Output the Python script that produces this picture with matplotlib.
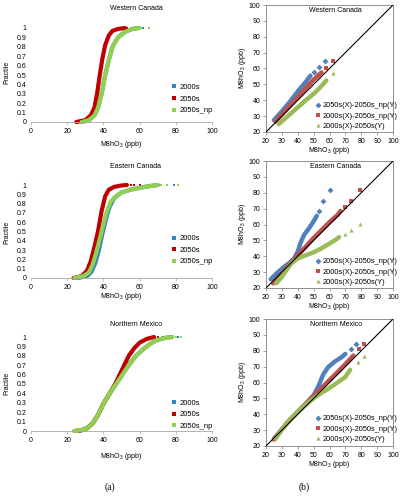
import matplotlib
matplotlib.use("Agg")
import matplotlib.pyplot as plt
from matplotlib.lines import Line2D

plt.rcParams['font.family'] = ['Liberation Sans', 'DejaVu Sans']
plt.rcParams['mathtext.fontset'] = 'custom'
plt.rcParams['mathtext.rm'] = 'Liberation Sans'
plt.rcParams['mathtext.it'] = 'Liberation Sans:italic'

regions = ['Western Canada', 'Eastern Canada', 'Northern Mexico']
cdf_labels = ['2000s', '2050s', '2050s_np']
qq_labels = ['2050s(X)-2050s_np(Y)', '2000s(X)-2050s_np(Y)', '2000s(X)-2050s(Y)']

# (a) fractile curves, dense part (x, fractile) plus sparse tail points at fractile 1
wc_2000s_x = [28, 32, 35, 37, 39, 41, 43, 45, 48, 52, 56, 59]
wc_2000s_f = [0, 0.02, 0.07, 0.15, 0.3, 0.5, 0.66, 0.8, 0.9, 0.96, 0.99, 1.0]
wc_2000s_tail = [62]
wc_2050s_x = [25, 30, 33, 35, 36.5, 38, 39.5, 41, 43, 45, 48, 52]
wc_2050s_f = [0, 0.02, 0.07, 0.15, 0.3, 0.5, 0.68, 0.82, 0.92, 0.97, 0.99, 1.0]
wc_2050s_tail = [53]
wc_np_x = [28, 32, 35, 37, 39, 41, 43, 45, 48, 52, 56, 60]
wc_np_f = [0, 0.02, 0.07, 0.15, 0.3, 0.5, 0.66, 0.8, 0.9, 0.96, 0.99, 1.0]
wc_np_tail = [65]

ec_2000s_x = [26, 31, 33.5, 35.5, 37.5, 39.5, 41.5, 43.5, 46, 50, 55, 60, 66, 70]
ec_2000s_f = [0, 0.02, 0.07, 0.16, 0.3, 0.48, 0.64, 0.77, 0.86, 0.92, 0.95, 0.97, 0.99, 1.0]
ec_2000s_tail = [71, 79]
ec_2050s_x = [23.5, 28, 31, 33, 35, 37, 39, 41, 43, 46, 50, 53]
ec_2050s_f = [0, 0.02, 0.08, 0.18, 0.33, 0.5, 0.72, 0.88, 0.95, 0.98, 0.995, 1.0]
ec_2050s_tail = [55, 57, 60]
ec_np_x = [24, 29, 32, 34, 36, 38, 40, 42, 44, 47, 50, 55, 60, 66, 70]
ec_np_f = [0, 0.02, 0.06, 0.14, 0.27, 0.42, 0.58, 0.72, 0.82, 0.88, 0.92, 0.95, 0.97, 0.99, 1.0]
ec_np_tail = [72, 75, 81]

nm_2000s_x = [27, 31, 34, 37, 40, 43.5, 47, 50.5, 54, 58, 62, 66, 70, 74, 78]
nm_2000s_f = [0, 0.03, 0.08, 0.17, 0.29, 0.4, 0.5, 0.6, 0.7, 0.8, 0.87, 0.93, 0.97, 0.99, 1.0]
nm_2000s_tail = [81]
nm_2050s_x = [24, 28, 31, 34, 37, 40, 43.5, 46.5, 49, 51.5, 54, 57, 60, 64, 68]
nm_2050s_f = [0, 0.01, 0.03, 0.08, 0.17, 0.29, 0.4, 0.5, 0.6, 0.7, 0.8, 0.88, 0.94, 0.98, 1.0]
nm_2050s_tail = [70, 73]
nm_np_x = [24, 28, 31, 34, 37, 40, 43.5, 47, 50.5, 54, 58, 62, 66, 70, 74, 78]
nm_np_f = [0, 0.01, 0.03, 0.08, 0.17, 0.29, 0.4, 0.5, 0.6, 0.7, 0.8, 0.87, 0.93, 0.97, 0.99, 1.0]
nm_np_tail = [80, 83]

# (b) Q-Q plots, dense part plus sparse tail points
wc_q1_x = [25, 30, 35, 40, 45, 48]
wc_q1_y = [27.5, 33, 39, 45.5, 51.5, 55.5]
wc_q1_tx = [50, 53.5, 57]
wc_q1_ty = [58, 61, 64.5]
wc_q2_x = [26, 30, 35, 40, 45, 50, 55]
wc_q2_y = [26.5, 31, 36.5, 42, 47.5, 53, 57.5]
wc_q2_tx = [58, 62]
wc_q2_ty = [60.5, 64.5]
wc_q3_x = [28, 32, 36, 40, 45, 50, 55, 58]
wc_q3_y = [25, 28.5, 32, 35.5, 40, 44, 49, 52.5]
wc_q3_tx = [62]
wc_q3_ty = [57]

ec_q1_x = [23, 27, 31, 35, 38, 40, 42, 44, 47, 50, 52]
ec_q1_y = [25.5, 29.5, 33, 36, 39, 43, 49, 53.5, 57.5, 62, 65.5]
ec_q1_tx = [53.5, 56, 60.5]
ec_q1_ty = [68.5, 75, 81.5]
ec_q2_x = [24.5, 30, 35, 40, 45, 50, 55, 60, 65, 67]
ec_q2_y = [23, 29, 35, 40.5, 46, 51.5, 56.5, 61.5, 66, 68.5]
ec_q2_tx = [70, 73.5, 79.5]
ec_q2_ty = [71, 75, 81.5]
ec_q3_x = [26.5, 30, 33, 36, 39, 42, 46, 50, 55, 60, 64, 66]
ec_q3_y = [23, 27, 31.5, 35.5, 38, 39.5, 41, 42.5, 45, 48, 50.5, 52]
ec_q3_tx = [70, 73.5, 79.5]
ec_q3_ty = [54, 56.5, 60.5]

nm_q1_x = [25, 30, 35, 40, 45, 50, 53, 56, 59, 63, 67, 70]
nm_q1_y = [24.5, 30.5, 36.5, 41.5, 46.5, 52, 57.5, 65, 69.5, 73, 75.5, 78]
nm_q1_tx = [73.5, 77]
nm_q1_ty = [81, 84]
nm_q2_x = [25, 30, 35, 40, 45, 50, 55, 60, 65, 70, 75]
nm_q2_y = [24, 30.5, 36.5, 41.5, 46.5, 51.5, 56.5, 61.5, 66.5, 71.5, 77]
nm_q2_tx = [78.5, 82]
nm_q2_ty = [81, 84]
nm_q3_x = [26, 30, 35, 40, 45, 50, 55, 60, 65, 70, 73]
nm_q3_y = [24.5, 30.5, 36.5, 41.5, 46, 50, 53.5, 56.5, 60, 63.5, 68]
nm_q3_tx = [78, 82]
nm_q3_ty = [73, 77]

cdf_data = [
    [(wc_2000s_x, wc_2000s_f, wc_2000s_tail), (wc_2050s_x, wc_2050s_f, wc_2050s_tail), (wc_np_x, wc_np_f, wc_np_tail)],
    [(ec_2000s_x, ec_2000s_f, ec_2000s_tail), (ec_2050s_x, ec_2050s_f, ec_2050s_tail), (ec_np_x, ec_np_f, ec_np_tail)],
    [(nm_2000s_x, nm_2000s_f, nm_2000s_tail), (nm_2050s_x, nm_2050s_f, nm_2050s_tail), (nm_np_x, nm_np_f, nm_np_tail)],
]
qq_data = [
    [(wc_q1_x, wc_q1_y, wc_q1_tx, wc_q1_ty), (wc_q2_x, wc_q2_y, wc_q2_tx, wc_q2_ty), (wc_q3_x, wc_q3_y, wc_q3_tx, wc_q3_ty)],
    [(ec_q1_x, ec_q1_y, ec_q1_tx, ec_q1_ty), (ec_q2_x, ec_q2_y, ec_q2_tx, ec_q2_ty), (ec_q3_x, ec_q3_y, ec_q3_tx, ec_q3_ty)],
    [(nm_q1_x, nm_q1_y, nm_q1_tx, nm_q1_ty), (nm_q2_x, nm_q2_y, nm_q2_tx, nm_q2_ty), (nm_q3_x, nm_q3_y, nm_q3_tx, nm_q3_ty)],
]

cdf_colors = ['#2e86c1', '#c00000', '#92d050']
qq_colors = ['#4f81bd', '#c0504d', '#9bbb59']
qq_markers = ['D', 's', '^']
fs = 5
W, H = 404, 497

fig = plt.figure(figsize=(W / 100, H / 100), dpi=100)

# pixel layouts: (top px of axes, bottom px of axes)
left_rows = [(28, 122), (185, 278), (337, 431)]
left_title_y = [9, 167, 325]
left_xlabel_y = [145, 297, 457]
left_ylabel_y = [72, 232, 383]
left_leg_y = [0.245, 0.30, 0.173]
right_rows = [(5, 132), (161, 288), (319, 446)]
right_xlabel_y = [150, 306, 465]
right_leg_y = [0.126, 0.126, 0.134]

for i in range(3):
    top, bot = left_rows[i]
    ax = fig.add_axes([31 / W, 1 - bot / H, 181 / W, (bot - top) / H])
    for (x, f, tail), c in zip(cdf_data[i], cdf_colors):
        ax.plot(x, f, color=c, lw=3, solid_capstyle='round', solid_joinstyle='round', clip_on=False)
        ax.plot(tail, [1.0] * len(tail), 's', color=c, ms=2, mew=0, clip_on=False)
    ax.set_xlim(0, 100)
    ax.set_ylim(0, 1)
    ax.set_xticks(range(0, 101, 20))
    ax.set_yticks([k / 10 for k in range(11)])
    ax.set_yticklabels(['0'] + ['0.%d' % k for k in range(1, 10)] + ['1'])
    for s in ['top', 'right', 'left']:
        ax.spines[s].set_visible(False)
    ax.spines['bottom'].set_color('#a6a6a6')
    ax.spines['bottom'].set_linewidth(0.6)
    ax.tick_params(axis='x', length=2, width=0.5, color='#a6a6a6', labelsize=fs, pad=2)
    ax.tick_params(axis='y', length=0, labelsize=fs, pad=3)
    handles = [Line2D([], [], ls='none', marker='s', ms=2.2, mew=0, color=c) for c in cdf_colors]
    ax.legend(handles, cdf_labels, loc='center left', bbox_to_anchor=(0.775, left_leg_y[i]),
              frameon=False, fontsize=fs + 0.5, handlelength=0.8, handletextpad=0.3,
              labelspacing=0.55, borderpad=0, borderaxespad=0)
    fig.text(136 / W, 1 - left_title_y[i] / H, regions[i], ha='center', va='center', fontsize=fs)
    fig.text(121 / W, 1 - left_xlabel_y[i] / H, 'M8hO$_3$ (ppb)', ha='center', va='center', fontsize=fs)
    fig.text(7 / W, 1 - left_ylabel_y[i] / H, 'Fractile', ha='center', va='center', rotation=90, fontsize=fs)

for i in range(3):
    top, bot = right_rows[i]
    ax = fig.add_axes([266 / W, 1 - bot / H, 127 / W, (bot - top) / H])
    for (x, y, tx, ty), c, m in zip(qq_data[i], qq_colors, qq_markers):
        ax.plot(x, y, color=c, lw=3.2, solid_capstyle='round', solid_joinstyle='round')
        ax.plot(tx, ty, m, color=c, ms=3, mew=0)
    ax.plot([20, 100], [20, 100], color='black', lw=0.8, zorder=5)
    ax.set_xlim(20, 100)
    ax.set_ylim(20, 100)
    ax.set_xticks(range(20, 101, 10))
    ax.set_yticks(range(20, 101, 10))
    for s in ax.spines.values():
        s.set_color('#7f7f7f')
        s.set_linewidth(0.6)
    ax.tick_params(length=2, width=0.5, color='#7f7f7f', labelsize=fs, pad=2)
    ax.text(0.55, 0.955, regions[i], transform=ax.transAxes, ha='center', va='center', fontsize=fs)
    handles = [Line2D([], [], ls='none', marker=m, ms=3, mew=0, color=c) for c, m in zip(qq_colors, qq_markers)]
    ax.legend(handles, qq_labels, loc='center left', bbox_to_anchor=(0.385, right_leg_y[i]),
              frameon=False, fontsize=fs + 0.3, handlelength=0.8, handletextpad=0.2,
              labelspacing=0.4, borderpad=0, borderaxespad=0)
    fig.text(329 / W, 1 - right_xlabel_y[i] / H, 'M8hO$_3$ (ppb)', ha='center', va='center', fontsize=fs)
    fig.text(243 / W, 1 - (top + bot) / 2 / H, 'M8hO$_3$ (ppb)', ha='center', va='center', rotation=90, fontsize=fs)

fig.text(110 / W, 1 - 487 / H, '(a)', ha='center', va='center', fontsize=7, family='Liberation Serif')
fig.text(304 / W, 1 - 487 / H, '(b)', ha='center', va='center', fontsize=7, family='Liberation Serif')

fig.savefig('out.png', dpi=100)
